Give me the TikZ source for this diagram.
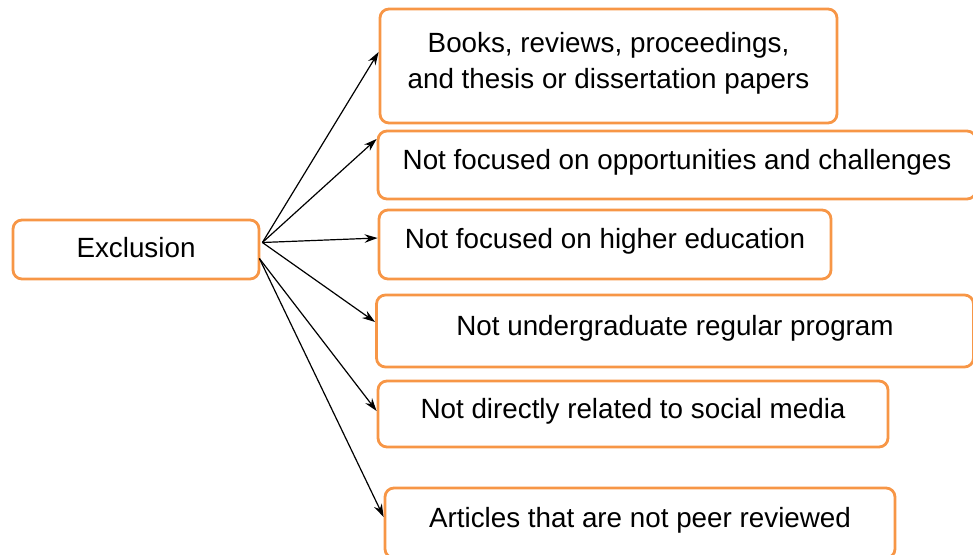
\documentclass[tikz,border=0pt]{standalone}
\usepackage{fontspec}
\setmainfont{Liberation Sans}
\usetikzlibrary{arrows.meta}
\definecolor{boxorange}{HTML}{F79646}

\begin{document}
\begin{tikzpicture}[x=1pt,y=-1pt,>={Stealth[length=13pt,width=8.5pt]},
  box/.style={draw=boxorange,line width=2.8pt,rounded corners=9pt,inner sep=0pt,
    font=\fontsize{27.8}{36}\selectfont,align=center,text height=22pt,text depth=14pt},
  link/.style={->,line width=1.2pt}]
\useasboundingbox (0,0) rectangle (973,554);
\node[box,minimum width=246pt,minimum height=59pt,text depth=7pt] (excl) at (136,249.5) {Exclusion};
\node[box,minimum width=457pt,minimum height=114pt,text height=58pt] (b1) at (608.5,66) {Books, reviews, proceedings,\\and thesis or dissertation papers};
\node[box,minimum width=598pt,minimum height=68pt] (b2) at (677,165) {Not focused on opportunities and challenges};
\node[box,minimum width=452pt,minimum height=69pt] (b3) at (605,244.5) {Not focused on higher education};
\node[box,minimum width=597pt,minimum height=72pt] (b4) at (675,331) {Not undergraduate regular program};
\node[box,minimum width=510pt,minimum height=66pt] (b5) at (633,414) {Not directly related to social media};
\node[box,minimum width=510pt,minimum height=70pt] (b6) at (640,523) {Articles that are not peer reviewed};
\coordinate (hub) at ([xshift=2pt,yshift=7pt]excl.east);
\coordinate (hub2) at ([xshift=-1pt,yshift=-9pt]excl.east);
\draw[link] (hub) -- ([yshift=14pt]b1.west);
\draw[link] (hub) -- ([yshift=26pt]b2.west);
\draw[link] (hub) -- ([yshift=6.5pt]b3.west);
\draw[link] (hub) -- ([yshift=9pt]b4.west);
\draw[link] (hub2) -- ([yshift=3pt]b5.west);
\draw[link] (hub2) -- ([yshift=6pt]b6.west);
\end{tikzpicture}
\end{document}
